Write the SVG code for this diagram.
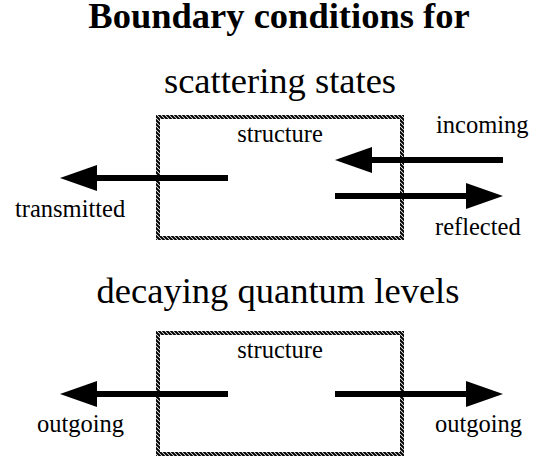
<svg xmlns="http://www.w3.org/2000/svg" width="539" height="461" viewBox="0 0 539 461">
  <style>
    .title { font-family: "Liberation Serif", "Times New Roman", serif; font-size: 36.5px; fill: #000; }
    .bold { font-weight: bold; }
    .lbl { font-family: "Liberation Serif", "Times New Roman", serif; font-size: 24.5px; fill: #000; }
    .arrow { stroke: #000; stroke-width: 6; fill: none; marker-end: url(#head); }
    .frame { fill: url(#hatch); fill-rule: evenodd; }
  </style>
  <defs>
    <pattern id="hatch" width="4" height="4" patternUnits="userSpaceOnUse">
      <path d="M-1,-1 L5,5 M-1,3 L1,5 M3,-1 L5,1" stroke="#000" stroke-width="2"/>
    </pattern>
    <marker id="head" viewBox="0 -13 37 26" refX="0" refY="0" markerWidth="37" markerHeight="26" markerUnits="userSpaceOnUse" orient="auto">
      <path d="M0,-13 L37,0 L0,13 Z" fill="#000"/>
    </marker>
  </defs>
  <rect width="539" height="461" fill="#fff"/>

  <g id="titles">
    <text class="title bold" x="279" y="28" text-anchor="middle">Boundary conditions for</text>
    <text class="title" x="280" y="93" text-anchor="middle">scattering states</text>
    <text class="title" x="278" y="303" text-anchor="middle">decaying quantum levels</text>
  </g>

  <g id="structure1">
    <path class="frame" d="M156,115 H404 V240 H156 Z M160,119 H400 V236 H160 Z"/>
    <text class="lbl" x="280" y="142" text-anchor="middle">structure</text>
  </g>

  <g id="structure2">
    <path class="frame" d="M156,331 H404 V456 H156 Z M160,335 H400 V452 H160 Z"/>
    <text class="lbl" x="280" y="358" text-anchor="middle">structure</text>
  </g>

  <g id="labels">
    <text class="lbl" x="15" y="217">transmitted</text>
    <text class="lbl" x="436" y="133">incoming</text>
    <text class="lbl" x="435" y="235">reflected</text>
    <text class="lbl" x="37" y="432">outgoing</text>
    <text class="lbl" x="435" y="432">outgoing</text>
  </g>

  <g id="connectors">
    <line class="arrow" x1="228" y1="178" x2="97" y2="178"/>
    <line class="arrow" x1="503" y1="160" x2="372" y2="160"/>
    <line class="arrow" x1="335" y1="196" x2="466" y2="196"/>
    <line class="arrow" x1="228" y1="394" x2="97" y2="394"/>
    <line class="arrow" x1="335" y1="394" x2="466" y2="394"/>
  </g>
</svg>
